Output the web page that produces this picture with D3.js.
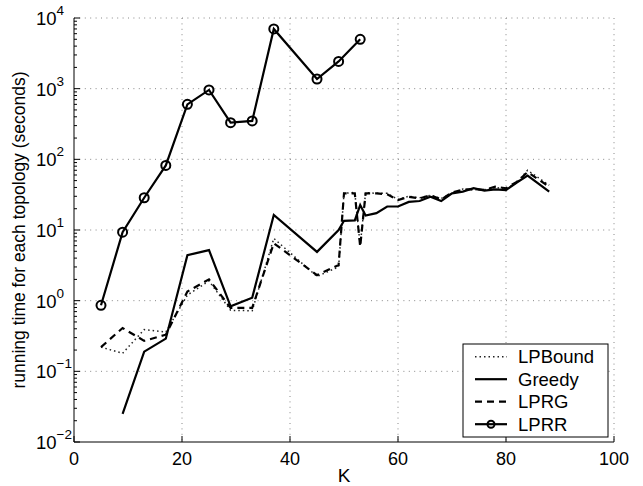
<!DOCTYPE html>
<html>
<head>
<meta charset="utf-8">
<script src="https://cdn.jsdelivr.net/npm/d3@7"></script>
<style>
  body { margin: 0; background: #fff; }
  text { font-family: "Liberation Sans", Arial, Helvetica, sans-serif; fill: #000; }
</style>
</head>
<body>
<div id="chart"></div>
<script>
// data
const kLPRR = [5, 9, 13, 17, 21, 25, 29, 33, 37, 45, 49, 53];
const lprr = [0.86, 9.3, 28.6, 82, 600, 960, 330, 350, 7000, 1370, 2430, 5000];

const kGreedy = [9, 13, 17, 21, 25, 29, 33, 37, 45, 49, 50, 52, 53, 54, 56, 58, 60, 62, 64, 66, 68, 70, 72, 74, 76, 78, 80, 82, 84, 88];
const greedy = [0.025, 0.19, 0.29, 4.4, 5.2, 0.83, 1.1, 16.3, 4.9, 10, 13.5, 13.7, 22.5, 16, 17.3, 21.5, 21.5, 25, 25.7, 29.6, 25.7, 33, 35, 39, 36, 37.5, 36.8, 47, 59, 35];

const kLP = [5, 9, 13, 17, 21, 25, 29, 33, 37, 45, 49, 50, 52, 53, 54, 56, 58, 60, 62, 64, 66, 68, 70, 72, 74, 76, 78, 80, 82, 84, 88];
const lprg = [0.22, 0.41, 0.27, 0.33, 1.35, 2.0, 0.79, 0.79, 6.5, 2.3, 3.2, 33, 33, 5.8, 33, 33, 32, 26.5, 29.5, 28, 31, 27, 34, 37, 38, 37, 41, 39, 48, 66, 41];
const lpbound = [0.22, 0.18, 0.39, 0.36, 1.2, 1.9, 0.73, 0.72, 7.6, 2.2, 3.0, 33, 34, 6, 34, 33, 33, 27, 30, 28.5, 31, 28, 33, 38, 37, 37, 40, 38, 47, 70, 43];

const xTicks = [0, 20, 40, 60, 80, 100];
const yExps = [-2, -1, 0, 1, 2, 3, 4];
const legendNames = ['LPBound', 'Greedy', 'LPRG', 'LPRR'];

const width = 643, height = 486;
const margin = { top: 18, right: 29, bottom: 44, left: 74 };
const iw = width - margin.left - margin.right;
const ih = height - margin.top - margin.bottom;

const svg = d3.select('#chart').append('svg')
  .attr('width', width)
  .attr('height', height);

const g = svg.append('g')
  .attr('transform', `translate(${margin.left},${margin.top})`);

const x = d3.scaleLinear().domain([0, 100]).range([0, iw]);
const y = d3.scaleLog().domain([1e-2, 1e4]).range([ih, 0]);

// grid
g.selectAll('.vgrid').data(xTicks.slice(1)).enter().append('line')
  .attr('x1', d => x(d)).attr('x2', d => x(d))
  .attr('y1', 0).attr('y2', ih)
  .attr('stroke', '#888').attr('stroke-width', 1)
  .attr('stroke-dasharray', '1,4.4');

g.selectAll('.hgrid').data(yExps.slice(1)).enter().append('line')
  .attr('x1', 0).attr('x2', iw)
  .attr('y1', d => y(Math.pow(10, d))).attr('y2', d => y(Math.pow(10, d)))
  .attr('stroke', '#888').attr('stroke-width', 1)
  .attr('stroke-dasharray', '1,4.4');

// axes lines
g.append('line').attr('x1', 0).attr('x2', 0).attr('y1', 0).attr('y2', ih)
  .attr('stroke', '#000').attr('stroke-width', 1);
g.append('line').attr('x1', 0).attr('x2', iw).attr('y1', ih).attr('y2', ih)
  .attr('stroke', '#000').attr('stroke-width', 1);

// x ticks
g.selectAll('.xtick').data(xTicks).enter().append('line')
  .attr('x1', d => x(d)).attr('x2', d => x(d))
  .attr('y1', ih).attr('y2', ih - 6)
  .attr('stroke', '#000');
g.selectAll('.xlabel').data(xTicks).enter().append('text')
  .attr('x', d => x(d)).attr('y', ih + 23)
  .attr('text-anchor', 'middle')
  .style('font-size', '18px')
  .text(d => d);

// y ticks (major + minor)
const minor = [];
yExps.slice(0, -1).forEach(e => {
  for (let m = 2; m <= 9; m++) minor.push(m * Math.pow(10, e));
});
g.selectAll('.ymin').data(minor).enter().append('line')
  .attr('x1', 0).attr('x2', 3)
  .attr('y1', d => y(d)).attr('y2', d => y(d))
  .attr('stroke', '#000');
g.selectAll('.ymaj').data(yExps).enter().append('line')
  .attr('x1', 0).attr('x2', 6)
  .attr('y1', d => y(Math.pow(10, d))).attr('y2', d => y(Math.pow(10, d)))
  .attr('stroke', '#000');

const ylab = g.selectAll('.ylabel').data(yExps).enter().append('text')
  .attr('x', -38)
  .attr('y', d => y(Math.pow(10, d)) + 7)
  .style('font-size', '18.5px');
ylab.append('tspan').text('10');
ylab.append('tspan')
  .attr('dy', -10)
  .style('font-size', '13.5px')
  .text(d => d < 0 ? '\u2212' + Math.abs(d) : d);

// axis titles
g.append('text')
  .attr('x', iw / 2).attr('y', ih + 40)
  .attr('text-anchor', 'middle')
  .style('font-size', '19px')
  .text('K');

g.append('text')
  .attr('transform', 'rotate(-90)')
  .attr('x', -ih / 2).attr('y', -49)
  .attr('text-anchor', 'middle')
  .style('font-size', '17.5px')
  .text('running time for each topology (seconds)');

// lines
const line = d3.line().x(d => x(d[0])).y(d => y(d[1]));
const zip = (ks, vs) => ks.map((k, i) => [k, vs[i]]);

g.append('path').datum(zip(kLP, lpbound))
  .attr('d', line).attr('fill', 'none')
  .attr('stroke', '#222').attr('stroke-width', 1.5)
  .attr('stroke-dasharray', '1.5,3');

g.append('path').datum(zip(kGreedy, greedy))
  .attr('d', line).attr('fill', 'none')
  .attr('stroke', '#000').attr('stroke-width', 2.2)
  .attr('stroke-linejoin', 'miter');

g.append('path').datum(zip(kLP, lprg))
  .attr('d', line).attr('fill', 'none')
  .attr('stroke', '#000').attr('stroke-width', 2.2)
  .attr('stroke-dasharray', '7,5');

g.append('path').datum(zip(kLPRR, lprr))
  .attr('d', line).attr('fill', 'none')
  .attr('stroke', '#000').attr('stroke-width', 2.2);

g.selectAll('.mk').data(zip(kLPRR, lprr)).enter().append('circle')
  .attr('cx', d => x(d[0])).attr('cy', d => y(d[1]))
  .attr('r', 4.5)
  .attr('fill', 'none').attr('stroke', '#000').attr('stroke-width', 2);

// legend
const lg = svg.append('g').attr('transform', 'translate(463,344)');
lg.append('rect').attr('width', 145).attr('height', 93)
  .attr('fill', '#fff').attr('stroke', '#000').attr('stroke-width', 1);

const styles = [
  { w: 1.5, dash: '1.5,3', color: '#222' },
  { w: 2.2, dash: null, color: '#000' },
  { w: 2.2, dash: '7,5', color: '#000' },
  { w: 2.2, dash: null, color: '#000', marker: true }
];

const items = lg.selectAll('.item').data(legendNames).enter().append('g')
  .attr('transform', (d, i) => `translate(0,${12.7 + i * 22.5})`);

items.append('line')
  .attr('x1', 12).attr('x2', 44).attr('y1', 0).attr('y2', 0)
  .attr('stroke', (d, i) => styles[i].color)
  .attr('stroke-width', (d, i) => styles[i].w)
  .attr('stroke-dasharray', (d, i) => styles[i].dash);

items.filter((d, i) => styles[i].marker).append('circle')
  .attr('cx', 28).attr('cy', 0).attr('r', 3.5)
  .attr('fill', 'none').attr('stroke', '#000').attr('stroke-width', 2);

items.append('text')
  .attr('x', 55).attr('y', 6.5)
  .style('font-size', '18.5px')
  .text(d => d);
</script>
</body>
</html>
